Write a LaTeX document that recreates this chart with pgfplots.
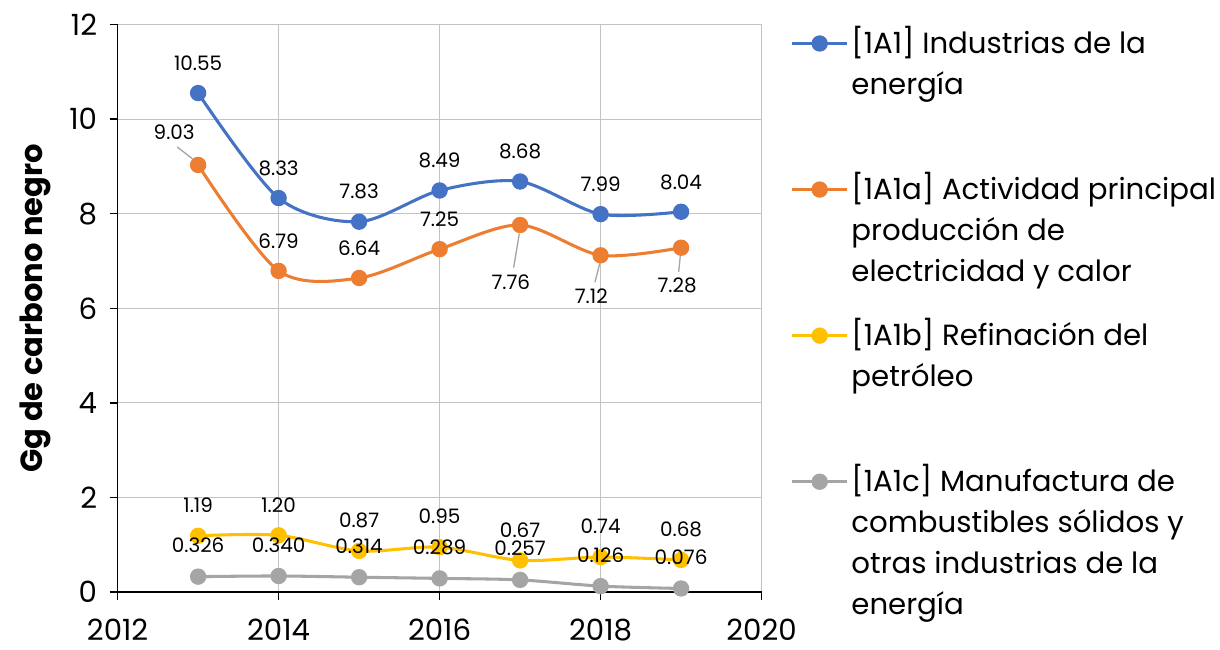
\documentclass[border=0pt]{standalone}
\usepackage{fontspec}
\setmainfont{Poppins}
\usepackage{pgfplots}
\pgfplotsset{compat=1.18}

\definecolor{cBlue}{RGB}{68,114,196}
\definecolor{cOrange}{RGB}{237,125,49}
\definecolor{cYellow}{RGB}{255,192,0}
\definecolor{cGray}{RGB}{165,165,165}
\definecolor{gridc}{RGB}{195,195,195}

\newcommand\legfont{\fontsize{22}{30.75}\selectfont}
\newcommand\lblfont{\fontsize{15}{18}\selectfont}
\newcommand\tickfont{\fontsize{22}{26}\selectfont}
% legend entry: natural width, fixed pitch between entries
\newcommand\lent[2][88.5pt]{\begin{tabular}[t]{@{}l@{}}#2\end{tabular}\rule[-#1]{0pt}{#1}}

\pgfplotsset{
  serie/.style={smooth, line width=2.3pt, color=#1, mark=*, mark size=5pt,
    mark options={solid, fill=#1, draw=#1}},
  lbl/.style 2 args={forget plot, draw=none, mark=none,
    point meta=explicit symbolic, nodes near coords,
    every node near coord/.append style={anchor=center, xshift=#1, yshift=#2,
      font=\lblfont, text=black, inner sep=0pt}},
}

\begin{document}
\begin{tikzpicture}
\begin{axis}[
  scale only axis, width=485pt, height=427.5pt,
  xmin=2012, xmax=2020, ymin=0, ymax=12,
  xtick={2012,2014,...,2020}, ytick={0,2,...,12},
  axis lines=left, axis line style={-, line width=1.1pt, black},
  grid=major, grid style={line width=0.8pt, color=gridc},
  tick align=outside, major tick length=6pt,
  tick style={black, line width=1.1pt},
  tick label style={font=\tickfont, /pgf/number format/assume math mode=true},
  x tick label style={/pgf/number format/1000 sep={}, yshift=-11pt},
  y tick label style={xshift=-6pt},
  ylabel={\bfseries Gg de carbono negro},
  every axis y label/.style={at={(axis description cs:-0.127,0.5)}, rotate=90,
    anchor=center, font=\fontsize{23}{27}\selectfont},
  clip=false,
  legend style={at={(rel axis cs:1.039,1.004)}, anchor=north west, draw=none,
    fill=none, font=\legfont, row sep=0pt, column sep=2.25pt,
    nodes={inner sep=0pt, text depth=}, cells={anchor=base west}},
  legend image code/.code={
    \draw[mark repeat=2, mark phase=2, #1] plot coordinates {(0pt,7.7pt) (20.5pt,7.7pt) (41pt,7.7pt)};},
]
\addplot[serie=cBlue] coordinates {
  (2013,10.55) (2014,8.33) (2015,7.83) (2016,8.49) (2017,8.68) (2018,7.99) (2019,8.04)};
\addlegendentry{\lent{[1A1] Industrias de la\\energía}}
\addplot[serie=cOrange] coordinates {
  (2013,9.03) (2014,6.79) (2015,6.64) (2016,7.25) (2017,7.76) (2018,7.12) (2019,7.28)};
\addlegendentry{\lent{[1A1a] Actividad principal\\producción de\\electricidad y calor}}
\addplot[serie=cYellow] coordinates {
  (2013,1.19) (2014,1.20) (2015,0.87) (2016,0.95) (2017,0.67) (2018,0.74) (2019,0.68)};
\addlegendentry{\lent{[1A1b] Refinación del\\petróleo}}
\addplot[serie=cGray] coordinates {
  (2013,0.326) (2014,0.340) (2015,0.314) (2016,0.289) (2017,0.257) (2018,0.126) (2019,0.076)};
\addlegendentry{\lent[0pt]{[1A1c] Manufactura de\\combustibles sólidos y\\otras industrias de la\\energía}}

% leader lines
\draw[cGray, line width=1pt] (axis cs:2012.74,9.41) -- (axis cs:2012.93,9.16);
\draw[cGray, line width=1pt] (axis cs:2016.99,7.58) -- (axis cs:2016.92,6.86);
\draw[cGray, line width=1pt] (axis cs:2017.99,6.95) -- (axis cs:2017.93,6.55);
\draw[cGray, line width=1pt] (axis cs:2018.99,7.10) -- (axis cs:2018.97,6.77);

% data labels
\addplot[lbl={0pt}{22.5pt}] coordinates {
  (2013,10.55)[10.55] (2014,8.33)[8.33] (2015,7.83)[7.83] (2016,8.49)[8.49]
  (2017,8.68)[8.68] (2018,7.99)[7.99] (2019,8.04)[8.04]};
\addplot[lbl={-18pt}{24.75pt}] coordinates {(2013,9.03)[9.03]};
\addplot[lbl={0pt}{22.5pt}] coordinates {
  (2014,6.79)[6.79] (2015,6.64)[6.64] (2016,7.25)[7.25]};
\addplot[lbl={-7pt}{-43pt}] coordinates {(2017,7.76)[7.76]};
\addplot[lbl={-7pt}{-30.5pt}] coordinates {(2018,7.12)[7.12]};
\addplot[lbl={-3pt}{-28.5pt}] coordinates {(2019,7.28)[7.28]};
\addplot[lbl={0pt}{23pt}] coordinates {
  (2013,1.19)[1.19] (2014,1.20)[1.20] (2015,0.87)[0.87] (2016,0.95)[0.95]
  (2017,0.67)[0.67] (2018,0.74)[0.74] (2019,0.68)[0.68]};
\addplot[lbl={0pt}{23.5pt}] coordinates {
  (2013,0.326)[0.326] (2014,0.340)[0.340] (2015,0.314)[0.314] (2016,0.289)[0.289]
  (2017,0.257)[0.257] (2018,0.126)[0.126] (2019,0.076)[0.076]};
\end{axis}
% small white margins as in the reference
\path (current bounding box.north west) ++(-12pt,7pt);
\path (current bounding box.south east) ++(0pt,-3pt);
\end{tikzpicture}
\end{document}
